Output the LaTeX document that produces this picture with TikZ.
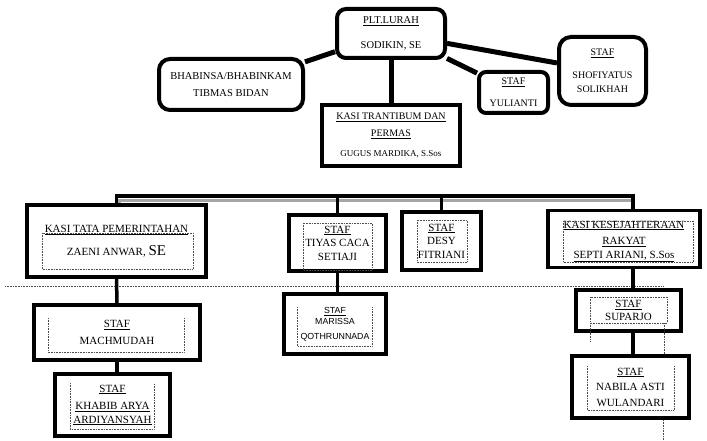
\documentclass[tikz,border=0pt]{standalone}
\usepackage{fontspec}
\setmainfont{Liberation Serif}
\setsansfont{Liberation Sans}
\tikzset{
  roundbox/.style={draw, line width=4pt, rounded corners=9pt, align=center, inner sep=0pt,
    font=\fontsize{10.5}{13}\selectfont},
  unitbox/.style={draw, line width=3.5pt, align=center, inner sep=0pt,
    font=\fontsize{11}{13.5}\selectfont},
  frame/.style={densely dotted, line width=0.6pt, black!70},
  link/.style={line width=5pt},
  buslink/.style={line width=3.5pt},
  busshade/.style={line width=3pt, black!35},
}
\begin{document}
\begin{tikzpicture}[x=1pt,y=-1pt]
		\useasboundingbox (0,0) rectangle (707,441);
		% upper part
		\node[roundbox, minimum width=108, minimum height=49] (lurah) at (391,33.5)
			{\underline{PLT.LURAH}\\[12pt]SODIKIN, SE};
		\node[roundbox, rounded corners=11pt, minimum width=144, minimum height=51] (bhabinsa) at (231,84.5)
			{BHABINSA/BHABINKAM\\[4pt]TIBMAS BIDAN};
		\node[unitbox, font=\fontsize{10}{13}\selectfont, minimum width=138, minimum height=61] (trantibum) at (391,135.5)
			{\underline{KASI TRANTIBUM DAN}\\[4pt]\underline{PERMAS}\\[7pt]{\fontsize{9}{9}\selectfont GUGUS MARDIKA, S.Sos}};
		\node[roundbox, font=\fontsize{10}{13}\selectfont, rounded corners=7pt, minimum width=69, minimum height=41] (yulianti) at (513.5,92.5)
			{\underline{STAF}\\[9pt]YULIANTI};
		\node[roundbox, font=\fontsize{10}{13}\selectfont, rounded corners=12pt, minimum width=87, minimum height=68] (shofi) at (602.5,71)
			{\underline{STAF}\\[10pt]SHOFIYATUS\\[1pt]SOLIKHAH};
		\draw[link] (lurah.198) -- (bhabinsa.17);
		\draw[link] (lurah.south) -- (trantibum.north);
		\draw[link] (lurah.336) -- (yulianti.152);
		\draw[link] (lurah.350) -- (shofi.170);

		% lower part
		\draw[frame] (5,286) -- (663,286);
		\node[unitbox, minimum width=179, minimum height=72] (kasitata) at (116.5,241)
			{\underline{KASI TATA PEMERINTAHAN}\\[9pt]ZAENI ANWAR, {\fontsize{15}{15}\selectfont SE}};
		\node[unitbox, minimum width=97, minimum height=56] (tiyas) at (337.5,243)
			{\underline{STAF}\\TIYAS CACA\\SETIAJI};
		\node[unitbox, minimum width=79, minimum height=58] (desy) at (441.5,241)
			{\underline{STAF}\\DESY\\FITRIANI};
		\node[unitbox, minimum width=152, minimum height=57] (kesra) at (624,239)
			{\rule{0pt}{12pt}\underline{KASI KESEJAHTERAAN}\\[3pt]\underline{RAKYAT}\\\underline{SEPTI ARIANI, S.Sos}};
		\node[unitbox, minimum width=166, minimum height=55] (machmudah) at (117,332.5)
			{\underline{STAF}\\[4pt]MACHMUDAH};
		\node[unitbox, minimum width=115, minimum height=62] (khabib) at (112.5,405)
			{\underline{STAF}\\[4pt]\underline{KHABIB ARYA}\\\underline{ARDIYANSYAH}};
		\node[unitbox, font=\sffamily\fontsize{8.8}{12.5}\selectfont, minimum width=102, minimum height=60] (marissa) at (335,324)
			{\underline{STAF}\\[-1pt]MARISSA\\[2pt]QOTHRUNNADA};
		\node[unitbox, minimum width=105, minimum height=41] (suparjo) at (628.5,310.5)
			{\underline{STAF}\\SUPARJO};
		\node[unitbox, minimum width=117, minimum height=62] (nabila) at (630.5,387)
			{\underline{STAF}\\[2pt]NABILA ASTI\\[2pt]WULANDARI};

		\coordinate (kesraDrop) at (633,196);
		\coordinate (busShade) at (400,200);
		\draw[busshade] (kasitata.north -| 119,0) |- (kesraDrop |- busShade);
		\draw[buslink] (kasitata.north) |- (kesraDrop) -- (kesraDrop |- kesra.north);
		\draw[buslink] (tiyas.north) -- (tiyas.north |- kesraDrop);
		\draw[buslink] (desy.north) -- (desy.north |- kesraDrop);
		\draw[buslink] (kasitata.south) -- (machmudah.north);
		\draw[buslink] (machmudah.south) -- (machmudah.south |- khabib.north);
		\draw[buslink] (tiyas.south) -- (tiyas.south |- marissa.north);
		\draw[buslink] (kesraDrop |- kesra.south) -- (kesraDrop |- suparjo.north);
		\draw[buslink] (kesraDrop |- suparjo.south) -- (kesraDrop |- nabila.north);

		% dotted inner frames
		\draw[frame] (42,233) rectangle (193,269);
		\draw[frame] (303,223) rectangle (372,270);
		\draw[frame] (417,220) rectangle (467,262);
		\draw[frame] (563,221) rectangle (693,262);
		\draw[frame] (48,318) -- (48,352) -- (184,352) -- (184,318);
		\draw[frame] (70,383) -- (70,429) -- (154,429) -- (154,383);
		\draw[frame] (297,307) -- (297,346) -- (372,346) -- (372,307);
		\draw[frame] (590,297) rectangle (667,323);
		\draw[frame] (590,323) -- (590,342);
		\draw[frame] (664,323) -- (664,354);
		\draw[frame] (587,366) -- (587,410) -- (674,410) -- (674,366);
		\draw[frame] (663,420) -- (663,441);
\end{tikzpicture}
\end{document}
